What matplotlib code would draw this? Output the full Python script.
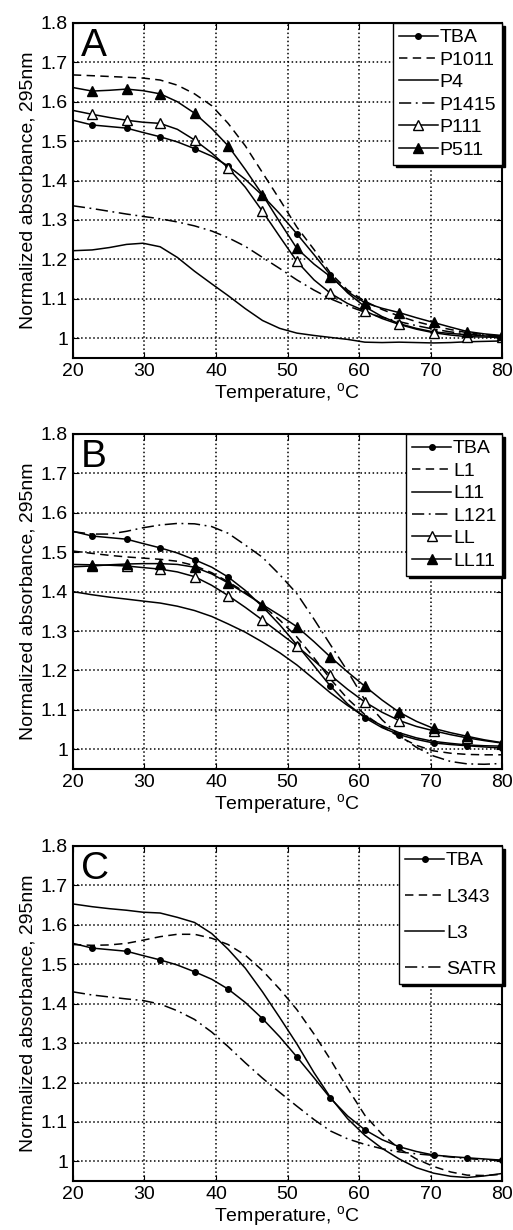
import matplotlib
matplotlib.use('Agg')
import matplotlib.pyplot as plt

plt.rcParams['font.family'] = ['Liberation Sans', 'DejaVu Sans']
plt.rcParams['mathtext.fontset'] = 'custom'
plt.rcParams['mathtext.rm'] = 'Liberation Sans'

# temperature grid (deg C); odd indices are where the markers sit
temps = [20.0, 22.7, 25.1, 27.5, 29.8, 32.2, 34.6, 37.0, 39.4, 41.7, 44.1, 46.5, 48.9,
         51.3, 53.7, 56.0, 58.4, 60.8, 63.2, 65.6, 68.0, 70.4, 72.8, 75.1, 77.5, 79.9]

# TBA reference (same in all three panels)
tba = [1.553, 1.541, 1.537, 1.533, 1.522, 1.511, 1.498, 1.481, 1.462, 1.437, 1.403, 1.362, 1.316,
       1.265, 1.212, 1.160, 1.115, 1.080, 1.055, 1.037, 1.025, 1.016, 1.012, 1.009, 1.006, 1.003]

# panel A
p1011 = [1.668, 1.666, 1.664, 1.662, 1.660, 1.655, 1.642, 1.620, 1.590, 1.545, 1.488, 1.420, 1.352,
         1.282, 1.225, 1.165, 1.122, 1.094, 1.073, 1.056, 1.042, 1.031, 1.022, 1.014, 1.009, 1.006]
p4 = [1.222, 1.224, 1.230, 1.238, 1.241, 1.232, 1.205, 1.170, 1.138, 1.108, 1.075, 1.045, 1.025,
      1.013, 1.007, 1.002, 0.997, 0.990, 0.989, 0.990, 0.989, 0.988, 0.989, 0.991, 0.992, 0.993]
p1415 = [1.336, 1.329, 1.322, 1.315, 1.309, 1.303, 1.295, 1.285, 1.272, 1.255, 1.233, 1.205, 1.177,
         1.148, 1.122, 1.100, 1.082, 1.066, 1.053, 1.042, 1.032, 1.023, 1.016, 1.011, 1.008, 1.006]
p111 = [1.578, 1.568, 1.560, 1.553, 1.548, 1.545, 1.530, 1.503, 1.470, 1.432, 1.383, 1.322, 1.258,
        1.195, 1.148, 1.114, 1.088, 1.069, 1.050, 1.035, 1.023, 1.014, 1.008, 1.004, 1.003, 1.002]
p511 = [1.636, 1.627, 1.629, 1.632, 1.628, 1.620, 1.600, 1.571, 1.532, 1.488, 1.428, 1.364, 1.295,
        1.228, 1.188, 1.156, 1.118, 1.090, 1.076, 1.065, 1.052, 1.040, 1.028, 1.017, 1.011, 1.007]

# panel B
l1 = [1.503, 1.497, 1.492, 1.488, 1.485, 1.482, 1.477, 1.466, 1.448, 1.425, 1.398, 1.365, 1.328,
      1.285, 1.232, 1.178, 1.128, 1.088, 1.058, 1.032, 1.010, 0.996, 0.990, 0.987, 0.986, 0.986]
l11 = [1.400, 1.392, 1.386, 1.381, 1.376, 1.371, 1.363, 1.352, 1.337, 1.318, 1.297, 1.272, 1.245,
       1.214, 1.178, 1.143, 1.111, 1.083, 1.060, 1.042, 1.029, 1.020, 1.015, 1.011, 1.009, 1.008]
l121 = [1.552, 1.546, 1.546, 1.553, 1.562, 1.569, 1.573, 1.572, 1.565, 1.548, 1.518, 1.487, 1.443,
        1.395, 1.330, 1.265, 1.198, 1.125, 1.075, 1.035, 1.005, 0.983, 0.969, 0.963, 0.962, 0.964]
ll = [1.469, 1.468, 1.467, 1.465, 1.461, 1.457, 1.450, 1.438, 1.416, 1.390, 1.360, 1.328, 1.295,
      1.262, 1.225, 1.188, 1.152, 1.120, 1.094, 1.073, 1.058, 1.047, 1.037, 1.029, 1.022, 1.016]
ll11 = [1.463, 1.465, 1.468, 1.470, 1.471, 1.471, 1.469, 1.462, 1.445, 1.422, 1.395, 1.367, 1.340,
        1.311, 1.273, 1.234, 1.196, 1.160, 1.125, 1.094, 1.071, 1.053, 1.042, 1.033, 1.024, 1.017]

# panel C
l343 = [1.550, 1.548, 1.549, 1.553, 1.561, 1.570, 1.576, 1.576, 1.566, 1.550, 1.523, 1.484, 1.437,
        1.385, 1.323, 1.258, 1.185, 1.117, 1.069, 1.032, 1.006, 0.987, 0.973, 0.965, 0.964, 0.967]
l3 = [1.653, 1.646, 1.641, 1.637, 1.632, 1.630, 1.619, 1.606, 1.578, 1.538, 1.490, 1.430, 1.365,
      1.298, 1.225, 1.162, 1.108, 1.066, 1.033, 1.006, 0.984, 0.970, 0.962, 0.959, 0.963, 0.969]
satr = [1.430, 1.422, 1.417, 1.412, 1.408, 1.399, 1.382, 1.360, 1.328, 1.291, 1.250, 1.211, 1.175,
        1.140, 1.106, 1.077, 1.057, 1.043, 1.032, 1.024, 1.019, 1.015, 1.011, 1.007, 1.004, 1.002]

x_ticks = [20, 30, 40, 50, 60, 70, 80]
y_ticks = [1.0, 1.1, 1.2, 1.3, 1.4, 1.5, 1.6, 1.7, 1.8]
y_tick_labels = ['1', '1.1', '1.2', '1.3', '1.4', '1.5', '1.6', '1.7', '1.8']

DASH = (0, (5.5, 3.5))
DASHDOT = (0, (8, 3, 1.2, 3))
MK = slice(1, None, 2)

styles = {
    'tba': dict(ls='-', marker='o', ms=4, mfc='k'),
    'dash': dict(ls=DASH),
    'solid': dict(ls='-'),
    'dashdot': dict(ls=DASHDOT),
    'open_tri': dict(ls='-', marker='^', ms=7, mfc='white'),
    'fill_tri': dict(ls='-', marker='^', ms=7, mfc='k'),
}

panels = [
    ('A', [('TBA', tba, 'tba'), ('P1011', p1011, 'dash'), ('P4', p4, 'solid'),
           ('P1415', p1415, 'dashdot'), ('P111', p111, 'open_tri'), ('P511', p511, 'fill_tri')], 0.25),
    ('B', [('TBA', tba, 'tba'), ('L1', l1, 'dash'), ('L11', l11, 'solid'),
           ('L121', l121, 'dashdot'), ('LL', ll, 'open_tri'), ('LL11', ll11, 'fill_tri')], 0.25),
    ('C', [('TBA', tba, 'tba'), ('L343', l343, 'dash'), ('L3', l3, 'solid'),
           ('SATR', satr, 'dashdot')], 0.95),
]

fig = plt.figure(figsize=(5.13, 12.3), dpi=100)
bottoms = [0.709, 0.3748, 0.0398]

for (letter, series, lspace), bot in zip(panels, bottoms):
    ax = fig.add_axes([0.142, bot, 0.837, 0.2724])
    for name, vals, st in series:
        kw = dict(styles[st])
        if 'marker' in kw:
            kw['markevery'] = MK
            kw['mec'] = 'k'
        ax.plot(temps, vals, color='k', lw=1.1, label=name, **kw)

    ax.set_xlim(20, 80)
    ax.set_ylim(0.95, 1.8)
    ax.set_xticks(x_ticks)
    ax.set_yticks(y_ticks)
    ax.set_yticklabels(y_tick_labels)
    ax.grid(True, color='k', linestyle=':', linewidth=1.1)
    ax.tick_params(direction='in', length=4, labelsize=14, top=True, right=True)
    for sp in ax.spines.values():
        sp.set_linewidth(1.5)
    ax.set_xlabel(r'Temperature, $^{\mathrm{o}}$C', fontsize=14, labelpad=1)
    ax.set_ylabel('Normalized absorbance, 295nm', fontsize=14, labelpad=3)
    ax.text(0.018, 0.985, letter, transform=ax.transAxes, fontsize=28, va='top', ha='left')

    leg = ax.legend(loc='upper right', borderaxespad=0, fontsize=14, fancybox=False,
                    edgecolor='k', framealpha=1, handlelength=2.0, handletextpad=0.1,
                    labelspacing=lspace, borderpad=0.3, numpoints=1,
                    shadow={'color': 'k', 'alpha': 1})
    leg.get_frame().set_linewidth(1.0)

plt.savefig('out.png', dpi=100)
